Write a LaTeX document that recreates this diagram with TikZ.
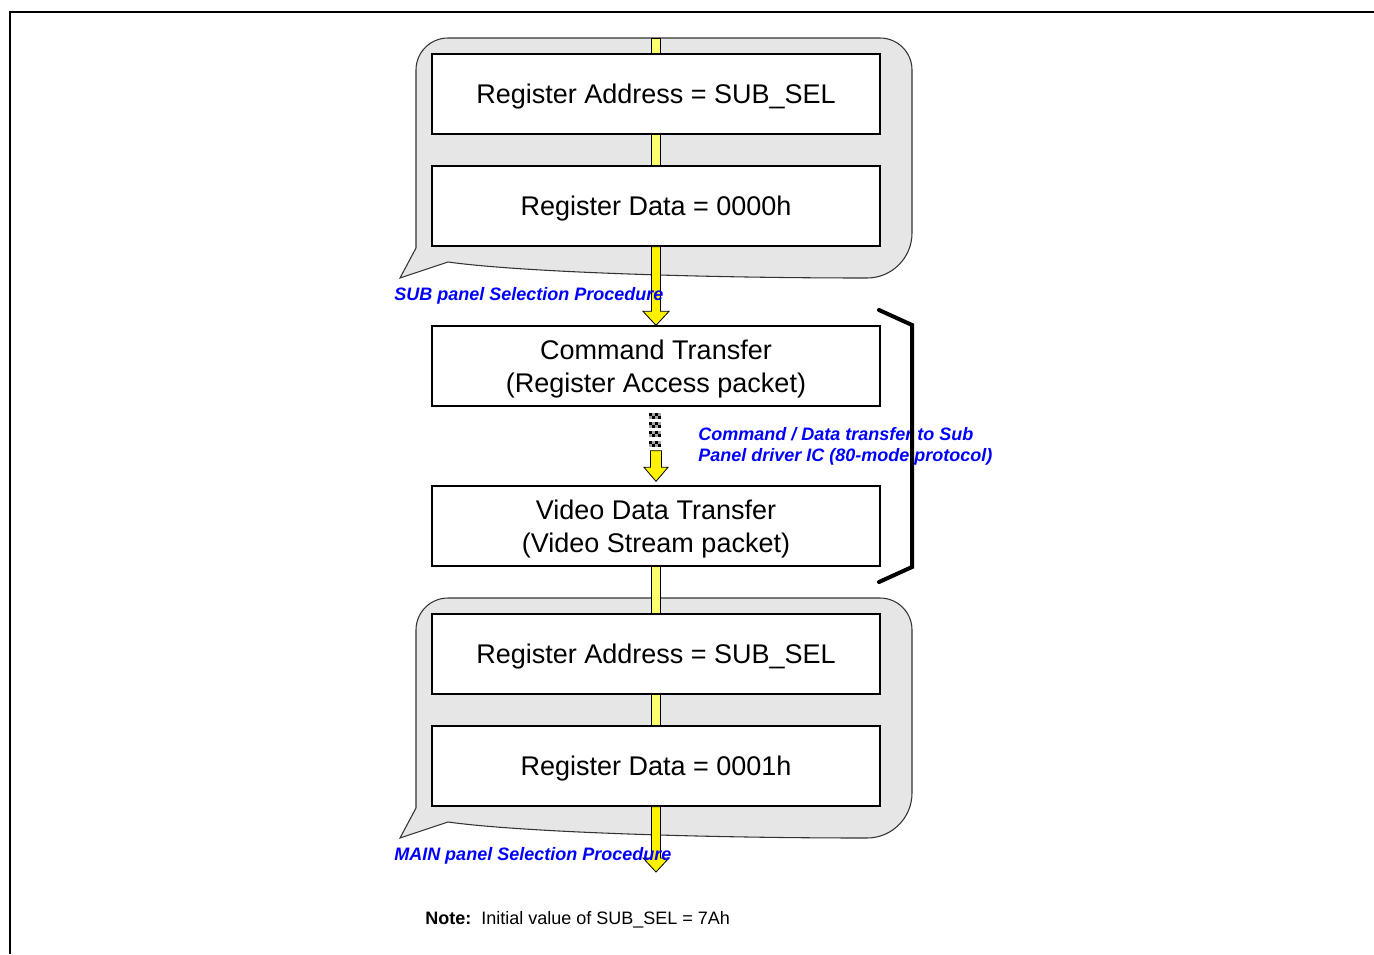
\documentclass[tikz,border=0pt]{standalone}
\usepackage{fontspec}
\setmainfont{Liberation Sans}
\usetikzlibrary{calc}
\definecolor{callgray}{RGB}{230,230,230}
\definecolor{stubyellow}{RGB}{255,255,110}
\definecolor{labelblue}{RGB}{0,0,255}
\begin{document}
\begin{tikzpicture}[x=0.75pt,y=-0.75pt,
  box/.style={draw,line width=1pt,fill=white,minimum width=336pt,minimum height=60pt,inner sep=0pt,text depth=0pt,align=center,font=\fontsize{20.25}{24.75}\selectfont},
  stub/.style={fill=stubyellow,draw=black,line width=0.6pt},
  arr/.style={fill=yellow,draw=black,line width=0.6pt,line join=miter},
  lbl/.style={text=labelblue,font=\fontsize{13.5}{15.75}\selectfont\bfseries\itshape,align=left,inner sep=0pt},
  bracket/.style={line width=3pt,line join=miter,line cap=round},
  frame/.style={line width=1.5pt},
  callout/.pic={
    \filldraw[fill=callgray,draw=black!80,line width=0.8pt]
      (416,248) -- (416,70) .. controls (416,52.3) and (430.3,38) .. (448,38)
      -- (880,38) .. controls (897.7,38) and (912,52.3) .. (912,70)
      -- (912,233) .. controls (912,257.9) and (891.9,278) .. (867,278)
      .. controls (700,278) and (520,272) .. (448,262)
      -- (400,278) -- cycle;
  }]
\useasboundingbox (0,0) rectangle (1374,954);
% frame
\draw[frame] (10,954) -- (10,12) -- (1374,12);

% callouts
\pic at (0,0) {callout};
\pic at (0,560) {callout};

% boxes
\node[box] (b1) at (656,94) {Register Address = SUB\_SEL};
\node[box] (b2) at (656,206) {Register Data = 0000h};
\node[box] (b3) at (656,366) {Command Transfer\\(Register Access packet)};
\node[box] (b4) at (656,526) {Video Data Transfer\\(Video Stream packet)};
\node[box] (b5) at (656,654) {Register Address = SUB\_SEL};
\node[box] (b6) at (656,766) {Register Data = 0001h};

\coordinate (top) at (656,38);
\coordinate (bend) at (656,872);

% yellow stubs
\filldraw[stub] ($(top)+(-4.5,0)$) rectangle ($(b1.north)+(4.5,0)$);
\filldraw[stub] ($(b1.south)+(-4.5,0)$) rectangle ($(b2.north)+(4.5,0)$);
\filldraw[stub] ($(b4.south)+(-4.5,0)$) rectangle ($(b5.north)+(4.5,0)$);
\filldraw[stub] ($(b5.south)+(-4.5,0)$) rectangle ($(b6.north)+(4.5,0)$);

% arrow b2 -> b3
\filldraw[arr] ($(b2.south)+(-4.5,0)$) -- ($(b3.north)+(-4.5,-14)$) -- ($(b3.north)+(-13,-14)$)
  -- (b3.north) -- ($(b3.north)+(13,-14)$) -- ($(b3.north)+(4.5,-14)$) -- ($(b2.south)+(4.5,0)$) -- cycle;

% arrow b6 -> end
\filldraw[arr] ($(b6.south)+(-4.5,0)$) -- ($(bend)+(-4.5,-14)$) -- ($(bend)+(-13,-14)$)
  -- (bend) -- ($(bend)+(13,-14)$) -- ($(bend)+(4.5,-14)$) -- ($(b6.south)+(4.5,0)$) -- cycle;

% dashed (patterned) arrow b3 -> b4
\foreach \yy in {6,15,24,34}{
  \foreach \i in {0,...,3}{
    \foreach \j in {0,1}{
      \pgfmathtruncatemacro\cpar{mod(\i+\j,2)}
      \ifnum\cpar=0
        \fill[black] ($(b3.south)+(-7+3*\i,\yy+3*\j)$) rectangle ++(3,3);
      \else
        \fill[black!35] ($(b3.south)+(-7+3*\i,\yy+3*\j)$) rectangle ++(3,3);
      \fi
    }
  }
}
\coordinate (dtip) at ($(b4.north)+(0,-4)$);
\filldraw[arr] ($(b3.south)+(-5.5,44)$) -- ($(dtip)+(-5.5,-14)$) -- ($(dtip)+(-12,-14)$)
  -- (dtip) -- ($(dtip)+(12,-14)$) -- ($(dtip)+(5.5,-14)$) -- ($(b3.south)+(5.5,44)$) -- cycle;

% labels
\node[lbl,anchor=base west] (l1) at (394,300.5) {SUB panel Selection Procedure};
\node[lbl,anchor=base west] (l2) at (394,860.5) {MAIN panel Selection Procedure};
\node[lbl,anchor=west] (l3) at (698,446) {Command / Data transfer to Sub\\Panel driver IC (80-mode protocol)};

% bracket
\coordinate (k1) at (879,310);
\coordinate (k2) at (912,325);
\coordinate (k3) at (912,567);
\coordinate (k4) at (879,582);
\draw[bracket] (k1) -- (k2) -- (k3) -- (k4);

% note
\node[anchor=base west,inner sep=0pt,font=\fontsize{13.5}{16}\selectfont] (note) at (425,924)
  {\textbf{Note:}\ \ Initial value of SUB\_SEL = 7Ah};
\end{tikzpicture}
\end{document}
